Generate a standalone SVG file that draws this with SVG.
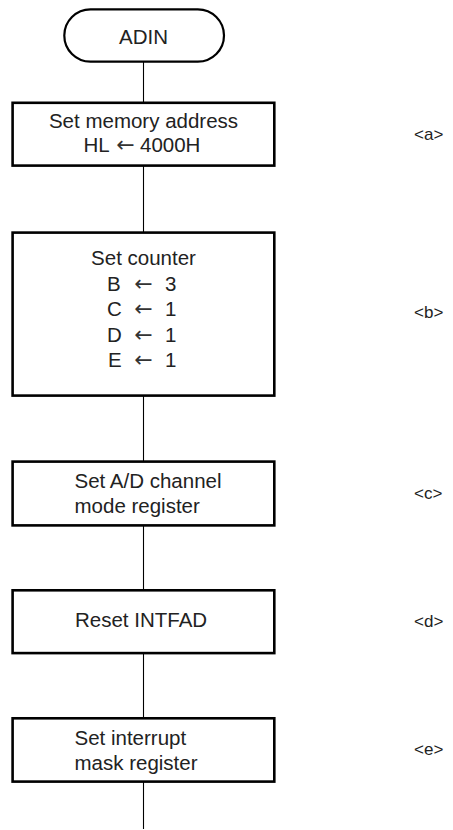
<svg xmlns="http://www.w3.org/2000/svg" width="453" height="830" viewBox="0 0 453 830">
<style>
.box{fill:#fff;stroke:#000;stroke-width:2.6}
.term{fill:#fff;stroke:#000;stroke-width:2.2}
.t{font-family:"Liberation Sans",Arial,sans-serif;font-size:20.5px;fill:#222}
.c{text-anchor:middle}
.ar{font-family:"DejaVu Sans",sans-serif;font-size:22px;fill:#333;text-anchor:middle}
.lbl{font-family:"Liberation Sans",Arial,sans-serif;font-size:17px;fill:#222}
.conn{stroke:#000;stroke-width:1.1;fill:none}
</style>
<rect width="453" height="830" fill="#fff"/>
<g id="connectors">
<line class="conn" x1="143.5" y1="62" x2="143.5" y2="102"/>
<line class="conn" x1="143.5" y1="166" x2="143.5" y2="232"/>
<line class="conn" x1="143.5" y1="396" x2="143.5" y2="461"/>
<line class="conn" x1="143.5" y1="526" x2="143.5" y2="590"/>
<line class="conn" x1="143.5" y1="653" x2="143.5" y2="718"/>
<line class="conn" x1="143.5" y1="782" x2="143.5" y2="829"/>
</g>
<g id="start">
<rect class="term" x="64.3" y="9.3" width="159.7" height="52.4" rx="26.2"/>
<text class="t c" x="143.5" y="44">ADIN</text>
</g>
<g id="nodeA">
<rect class="box" x="12.6" y="102.8" width="261.7" height="62.8"/>
<text class="t c" x="143.5" y="127.5">Set memory address</text>
<text class="t" x="83.5" y="151.5">HL</text><text class="ar" x="125.5" y="151.5">←</text><text class="t" x="140" y="151.5">4000H</text>
<text class="lbl" x="414" y="140">&lt;a&gt;</text>
</g>
<g id="nodeB">
<rect class="box" x="12.6" y="232.6" width="261.7" height="163"/>
<text class="t c" x="143.5" y="265">Set counter</text>
<text class="t" x="107" y="290.5">B</text><text class="ar" x="143.5" y="290.5">←</text><text class="t" x="165" y="290.5">3</text>
<text class="t" x="107" y="316">C</text><text class="ar" x="143.5" y="316">←</text><text class="t" x="165" y="316">1</text>
<text class="t" x="107" y="341.5">D</text><text class="ar" x="143.5" y="341.5">←</text><text class="t" x="165" y="341.5">1</text>
<text class="t" x="108" y="367">E</text><text class="ar" x="143.5" y="367">←</text><text class="t" x="165" y="367">1</text>
<text class="lbl" x="414" y="318">&lt;b&gt;</text>
</g>
<g id="nodeC">
<rect class="box" x="12.6" y="461.6" width="261.7" height="63.8"/>
<text class="t" x="74.5" y="488.3">Set A/D channel</text>
<text class="t" x="74.5" y="513.3">mode register</text>
<text class="lbl" x="414" y="499">&lt;c&gt;</text>
</g>
<g id="nodeD">
<rect class="box" x="12.6" y="590.3" width="261.7" height="62.8"/>
<text class="t" x="75" y="627">Reset INTFAD</text>
<text class="lbl" x="414" y="627">&lt;d&gt;</text>
</g>
<g id="nodeE">
<rect class="box" x="12.6" y="718.3" width="261.7" height="63.3"/>
<text class="t" x="74.5" y="745">Set interrupt</text>
<text class="t" x="74.5" y="770">mask register</text>
<text class="lbl" x="414" y="755">&lt;e&gt;</text>
</g>
</svg>
